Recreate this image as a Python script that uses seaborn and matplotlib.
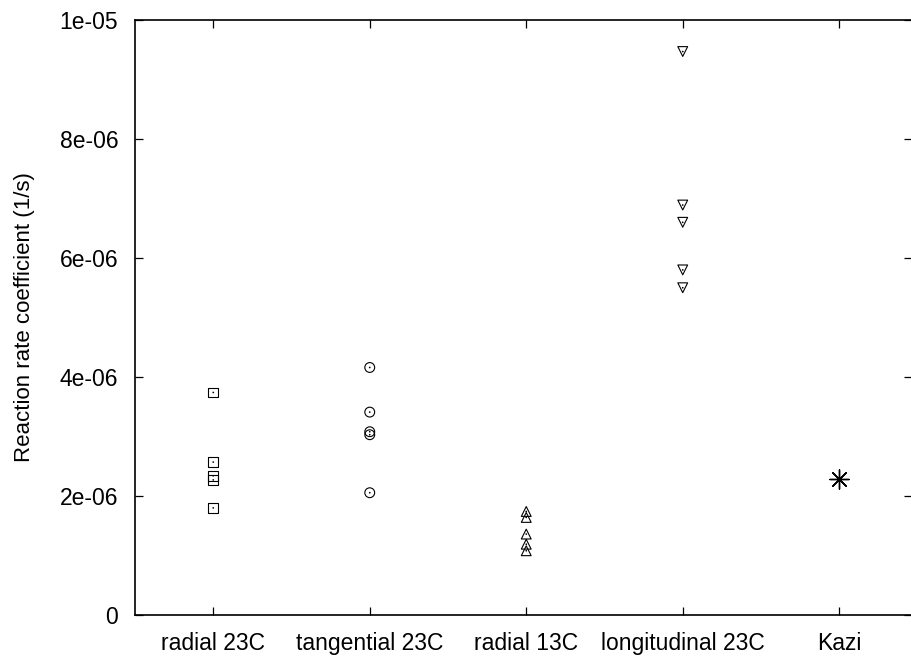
import matplotlib
matplotlib.use("Agg")
import matplotlib.pyplot as plt
import seaborn as sns
import pandas as pd
import numpy as np

categories = ["radial 23C", "tangential 23C", "radial 13C", "longitudinal 23C", "Kazi"]
radial_23c = [3.74e-06, 2.57e-06, 2.34e-06, 2.27e-06, 1.80e-06]
tangential_23c = [4.16e-06, 3.41e-06, 3.08e-06, 3.03e-06, 2.055e-06]
radial_13c = [1.74e-06, 1.64e-06, 1.36e-06, 1.19e-06, 1.08e-06]
longitudinal_23c = [9.47e-06, 6.89e-06, 6.60e-06, 5.80e-06, 5.50e-06]
kazi = [2.29e-06]
y_ticks = [0, 2e-06, 4e-06, 6e-06, 8e-06, 1e-05]
y_tick_labels = ["0", "2e-06", "4e-06", "6e-06", "8e-06", "1e-05"]

sns.set_style("white")
plt.rcParams["font.family"] = ["Liberation Sans", "DejaVu Sans"]
plt.rcParams["text.color"] = "black"
plt.rcParams["axes.labelcolor"] = "black"
plt.rcParams["xtick.color"] = "black"
plt.rcParams["ytick.color"] = "black"

fig = plt.figure(figsize=(9.11, 6.56), dpi=100)
ax = fig.add_axes([135 / 911, 1 - 615 / 656, 777 / 911, 595 / 656])

series = [radial_23c, tangential_23c, radial_13c, longitudinal_23c]
markers = ["s", "o", "^", "v"]
for i, (vals, m) in enumerate(zip(series, markers)):
    df = pd.DataFrame({"x": [i + 1] * len(vals), "y": vals})
    sns.scatterplot(data=df, x="x", y="y", marker=m, s=50, facecolor="none",
                    edgecolor="black", linewidth=0.8, ax=ax, zorder=3)
    sns.scatterplot(data=df, x="x", y="y", marker="o", s=1.5, color="black",
                    edgecolor="none", linewidth=0, ax=ax, zorder=4)

dfk = pd.DataFrame({"x": [5] * len(kazi), "y": kazi})
sns.scatterplot(data=dfk, x="x", y="y", marker=(8, 2, 0), s=190, color="black",
                linewidth=1.0, ax=ax, zorder=3)

ax.set_xlim(0.5, 5.465)
ax.set_ylim(0, 1e-05)
ax.set_xticks(range(1, len(categories) + 1))
ax.set_xticklabels(categories)
ax.set_yticks(y_ticks)
ax.set_yticklabels(y_tick_labels)
ax.set_xlabel("")
ax.set_ylabel("Reaction rate coefficient (1/s)", fontsize=16, labelpad=18,
              color="black")

ax.tick_params(axis="both", direction="in", length=6, width=0.9, color="black",
               labelcolor="black", labelsize=16.5, top=True, right=True,
               bottom=True, left=True)
ax.tick_params(axis="y", pad=12)
ax.tick_params(axis="x", pad=12)
for sp in ax.spines.values():
    sp.set_color("black")
    sp.set_linewidth(1.2)
    sp.set_visible(True)

fig.savefig("out.png", dpi=100)
